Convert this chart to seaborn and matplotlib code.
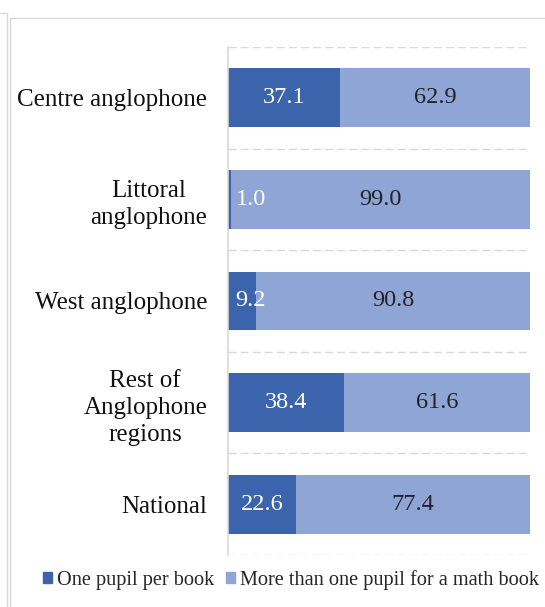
import matplotlib
matplotlib.use("Agg")
import matplotlib.pyplot as plt
import seaborn as sns
import pandas as pd
from matplotlib.lines import Line2D
from matplotlib.patches import Patch

categories = ["Centre anglophone", "Littoral\nanglophone", "West anglophone",
              "Rest of\nAnglophone\nregions", "National"]
one_pupil = [37.1, 1.0, 9.2, 38.4, 22.6]
more_than_one = [62.9, 99.0, 90.8, 61.6, 77.4]
series_names = ["One pupil per book", "More than one pupil for a math book"]

dark = "#3B64AD"
light = "#8FA5D5"

sns.set_theme(style="white")
plt.rcParams["font.family"] = ["Liberation Serif", "DejaVu Serif"]

df = pd.DataFrame({"cat": categories, "one": one_pupil, "more": more_than_one})
df["total"] = df["one"] + df["more"]

fig = plt.figure(figsize=(5.45, 6.07), dpi=100)
ax = fig.add_axes([228/545, 1-555/607, 302/545, 508/607])

sns.barplot(data=df, y="cat", x="total", color=light, orient="h", ax=ax,
            width=0.58, saturation=1, edgecolor="none")
sns.barplot(data=df, y="cat", x="one", color=dark, orient="h", ax=ax,
            width=0.58, saturation=1, edgecolor="none")

ax.set_xlim(0, 100)
ax.set_ylim(4.5, -0.5)
ax.set_xlabel("")
ax.set_ylabel("")
ax.set_xticks([])
for b in [-0.5, 0.5, 1.5, 2.5, 3.5, 4.5]:
    ax.axhline(b, color="#D9D9D9", lw=1, ls=(0, (5.8, 2.9)), zorder=0)
for s in ["top", "right", "bottom"]:
    ax.spines[s].set_visible(False)
ax.spines["left"].set_color("#D9D9D9")
ax.spines["left"].set_linewidth(1.2)
ax.tick_params(axis="y", length=0, pad=15, labelsize=18, labelcolor="#111111")
for t in ax.get_yticklabels():
    t.set_multialignment("center")
    t.set_linespacing(1.3)

for i, (a, b) in enumerate(zip(one_pupil, more_than_one)):
    ax.text(max(a / 2, 7.6), i, f"{a:.1f}", ha="center", va="center",
            color="white", fontsize=17.5)
    ax.text(a + b / 2, i, f"{b:.1f}", ha="center", va="center",
            color="#222222", fontsize=17.5)

handles = [Patch(color=dark), Patch(color=light)]
fig.legend(handles, series_names, loc="center", bbox_to_anchor=(291/545, 1-580/607),
           ncol=2, frameon=False, fontsize=14.6, handlelength=0.45, handleheight=0.45,
           handletextpad=0.22, columnspacing=0.6, borderaxespad=0)

# outer frames
fig.add_artist(Line2D([0, 7/545], [1-13/607, 1-13/607], color="#D9D9D9", lw=1))
fig.add_artist(Line2D([7/545, 7/545], [0, 1-13/607], color="#D9D9D9", lw=1))
fig.add_artist(Line2D([10/545, 1], [1-18/607, 1-18/607], color="#D9D9D9", lw=1))
fig.add_artist(Line2D([10/545, 10/545], [0, 1-18/607], color="#D9D9D9", lw=1))

fig.savefig("out.png", dpi=100)
